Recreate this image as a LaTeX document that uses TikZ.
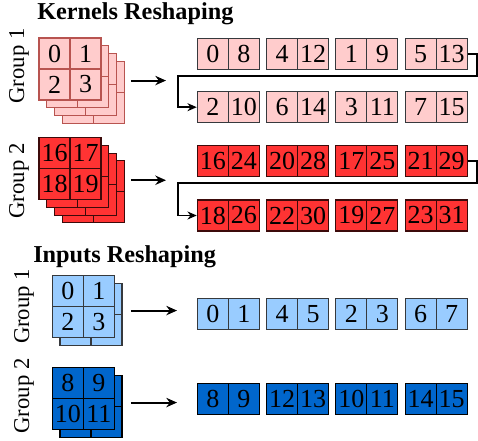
\documentclass[tikz,border=0pt]{standalone}
\usepackage{fontspec}
\setmainfont{Liberation Serif}
\usepackage{tikz}
\usetikzlibrary{arrows.meta, positioning, calc, fit}
\definecolor{kernelLight}{RGB}{255, 204, 204}
\definecolor{kernelLightLine}{RGB}{184, 84, 80}
\definecolor{kernelDark}{RGB}{255, 51, 51}
\definecolor{kernelDarkLine}{RGB}{60, 10, 10}
\definecolor{inputLight}{RGB}{153, 204, 255}
\definecolor{inputDark}{RGB}{0, 102, 204}
\definecolor{cellLine}{RGB}{54, 57, 61}

\begin{document}
\begin{tikzpicture}[
    x=0.75pt, y=-0.75pt,
    cell/.style={
        rectangle,
        minimum width=23.25pt,
        minimum height=23.25pt,
        inner sep=0pt,
        line width=0.8pt,
        font=\fontsize{19.5}{19.5}\selectfont
    },
    title/.style={
        anchor=base west,
        inner sep=0pt,
        font=\fontsize{18.2}{18.2}\selectfont\bfseries
    },
    grouplabel/.style={
        rotate=90,
        inner sep=0pt,
        font=\fontsize{17}{17}\selectfont
    },
    arrow/.style={
        -{Stealth[length=8pt, width=7pt]},
        line width=1.5pt
    },
    link/.style={
        -{Stealth[length=7pt, width=6pt]},
        line width=1.3pt
    }
]
\useasboundingbox (0,0) rectangle (478,441);

% Titles
\node[title] (ktitle) at (37,20) {Kernels Reshaping};
\node[title] (ititle) at (33,263) {Inputs Reshaping};

% Group labels
\node[grouplabel] (kg1) at (19,66) {Group 1};
\node[grouplabel] (kg2) at (19,181) {Group 2};
\node[grouplabel] (ig1) at (24,306.5) {Group 1};
\node[grouplabel] (ig2) at (24,396) {Group 2};

% Stacks: back layers first, front layer with numbers
\foreach \s/\x/\y/\n/\f/\d/\ta/\tb/\tc/\td in {
    k1/54.5/53.5/3/kernelLight/kernelLightLine/0/1/2/3,
    k2/54.5/153.2/3/kernelDark/kernelDarkLine/16/17/18/19,
    i1/67.8/291.2/1/inputLight/cellLine/0/1/2/3,
    i2/67.8/383.2/1/inputDark/black/8/9/10/11} {
    \foreach \l in {\n,...,1} {
        \foreach \c/\dx/\dy in {1/0/0, 2/31/0, 3/0/31, 4/31/31}
            \node[cell, fill=\f, draw=\d] (\s l\l-\c) at ({\x+7.7*\l+\dx},{\y+7.7*\l+\dy}) {};
    }
    \foreach \c/\dx/\dy/\t in {1/0/0/\ta, 2/31/0/\tb, 3/0/31/\tc, 4/31/31/\td}
        \node[cell, fill=\f, draw=\d] (\s l0-\c) at ({\x+\dx},{\y+\dy}) {\t};
}

% Stack outlines
\node[fit=(k1l0-1)(k1l3-4), inner sep=0pt] (k1stack) {};
\node[fit=(k2l0-1)(k2l3-4), inner sep=0pt] (k2stack) {};
\node[fit=(i1l0-1)(i1l1-4), inner sep=0pt] (i1stack) {};
\node[fit=(i2l0-1)(i2l1-4), inner sep=0pt] (i2stack) {};

% Reshaped rows
\foreach \r/\y/\f/\d/\vals in {
    kr1/53.7/kernelLight/cellLine/{0,8,4,12,1,9,5,13},
    kr2/107.2/kernelLight/cellLine/{2,10,6,14,3,11,7,15},
    kr3/161.3/kernelDark/kernelDarkLine/{16,24,20,28,17,25,21,29},
    kr4/215.5/kernelDark/kernelDarkLine/{18,26,22,30,19,27,23,31},
    ir1/313.8/inputLight/cellLine/{0,1,4,5,2,3,6,7},
    ir2/398.8/inputDark/black/{8,9,12,13,10,11,14,15}} {
    \foreach \v [count=\i] in \vals
        \node[cell, fill=\f, draw=\d] (\r-\i) at ({212.8+69.3*int((\i-1)/2)+31*mod(\i-1,2)},\y) {\v};
}

% Arrows from stacks
\coordinate (k1end) at (166,0);
\coordinate (k2end) at (166,0);
\coordinate (i1end) at (177,0);
\coordinate (i2end) at (177,0);
\draw[arrow, shorten <=4.5pt] (k1stack.east) -- (k1stack.east -| k1end);
\draw[arrow, shorten <=4.5pt] (k2stack.east) -- (k2stack.east -| k2end);
\draw[arrow, shorten <=6pt] (i1stack.east) -- (i1stack.east -| i1end);
\draw[arrow, shorten <=6pt] (i2stack.east) -- (i2stack.east -| i2end);

% Row wrap-around links
\draw[link] (kr1-8.east) -- ++(9.5,0) -- ++(0,22.3) -| ([shift={(-19,0)}]kr2-1.west) -- (kr2-1.west);
\draw[link] (kr3-8.east) -- ++(9.5,0) -- ++(0,22) -| ([shift={(-19,0)}]kr4-1.west) -- (kr4-1.west);

\end{tikzpicture}
\end{document}
